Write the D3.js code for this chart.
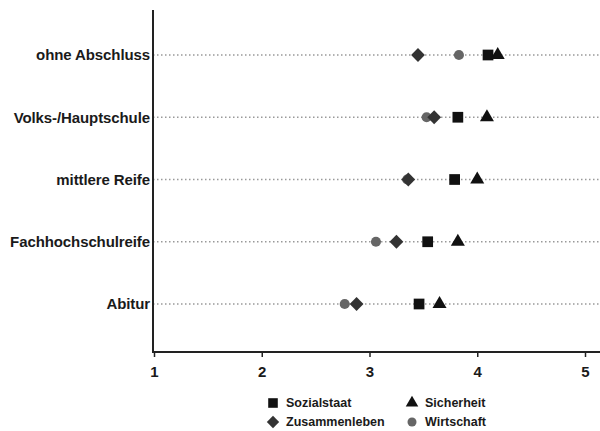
<!DOCTYPE html>
<html><head><meta charset="utf-8">
<script src="https://cdn.jsdelivr.net/npm/d3@7"></script>
<style>body{margin:0;background:#fff;}svg{display:block;font-family:"Liberation Sans",Arial,sans-serif;}</style>
</head><body><svg id="c" width="600" height="431"></svg>
<script>
const categories = ["ohne Abschluss","Volks-/Hauptschule","mittlere Reife","Fachhochschulreife","Abitur"];
const sozialstaat = [4.10, 3.82, 3.79, 3.54, 3.46];
const sicherheit = [4.19, 4.09, 4.00, 3.82, 3.65];
const zusammenleben = [3.45, 3.60, 3.36, 3.25, 2.88];
const wirtschaft = [3.83, 3.53, 3.35, 3.06, 2.77];
const xTicks = [1,2,3,4,5];

const series = [
  {name:"Wirtschaft", values:wirtschaft, sym:d3.symbolCircle, size:80, rot:0, color:"#666"},
  {name:"Zusammenleben", values:zusammenleben, sym:d3.symbolSquare, size:95, rot:45, color:"#333"},
  {name:"Sozialstaat", values:sozialstaat, sym:d3.symbolSquare, size:115, rot:0, color:"#111"},
  {name:"Sicherheit", values:sicherheit, sym:d3.symbolTriangle, size:85, rot:0, color:"#111"}
];

const svg = d3.select("#c");
const x = d3.scaleLinear().domain([1,5]).range([154,585]);
const y = d3.scalePoint().domain(categories).range([55,304]);
const plotLeft = 153, plotRight = 600, axisY = 352, plotTop = 10;

svg.append("g").selectAll("line").data(categories).join("line")
  .attr("x1", plotLeft).attr("x2", plotRight)
  .attr("y1", d=>y(d)).attr("y2", d=>y(d))
  .attr("stroke","#999").attr("stroke-width",1.3).attr("stroke-dasharray","1.5,2.5");

svg.append("line").attr("x1",plotLeft).attr("x2",plotLeft).attr("y1",plotTop).attr("y2",axisY)
  .attr("stroke","#222").attr("stroke-width",2);

svg.append("g").selectAll("text").data(categories).join("text")
  .attr("x", plotLeft-3).attr("y", d=>y(d)).attr("dy","0.35em")
  .attr("text-anchor","end").attr("font-size",15).attr("font-weight","bold")
  .attr("fill","#1a1a1a").attr("letter-spacing","-0.1").text(d=>d);

const xa = svg.append("g").attr("transform",`translate(0,${axisY})`)
  .call(d3.axisBottom(x).tickValues(xTicks).tickSize(5).tickFormat(d3.format("d")));
xa.select(".domain").remove();
xa.append("line").attr("x1",plotLeft-1).attr("x2",plotRight).attr("stroke","#222").attr("stroke-width",2);
xa.selectAll(".tick line").attr("stroke","#222").attr("stroke-width",1.5);
xa.selectAll(".tick text").attr("font-size",15).attr("font-weight","bold").attr("fill","#1a1a1a")
  .attr("y",14).attr("font-family","'Liberation Sans',Arial,sans-serif");

series.forEach(s=>{
  svg.append("g").selectAll("path").data(s.values).join("path")
    .attr("d", d3.symbol().type(s.sym).size(s.size))
    .attr("transform",(v,i)=>`translate(${x(v)},${y(categories[i])}) rotate(${s.rot})`)
    .attr("fill", s.color);
});

const legend = [
  {s:series[2], lx:273, ly:403},
  {s:series[3], lx:412, ly:403},
  {s:series[1], lx:273, ly:422},
  {s:series[0], lx:412, ly:422}
];
const lg = svg.append("g").selectAll("g").data(legend).join("g")
  .attr("transform", d=>`translate(${d.lx},${d.ly})`);
lg.append("path").attr("d", d=>d3.symbol().type(d.s.sym).size(d.s.size*0.8)())
  .attr("transform", d=>`rotate(${d.s.rot})`).attr("fill", d=>d.s.color);
lg.append("text").attr("x",13).attr("dy","0.35em").attr("font-size",12.5).attr("font-weight","bold")
  .attr("fill","#1a1a1a").text(d=>d.s.name);
</script></body></html>
